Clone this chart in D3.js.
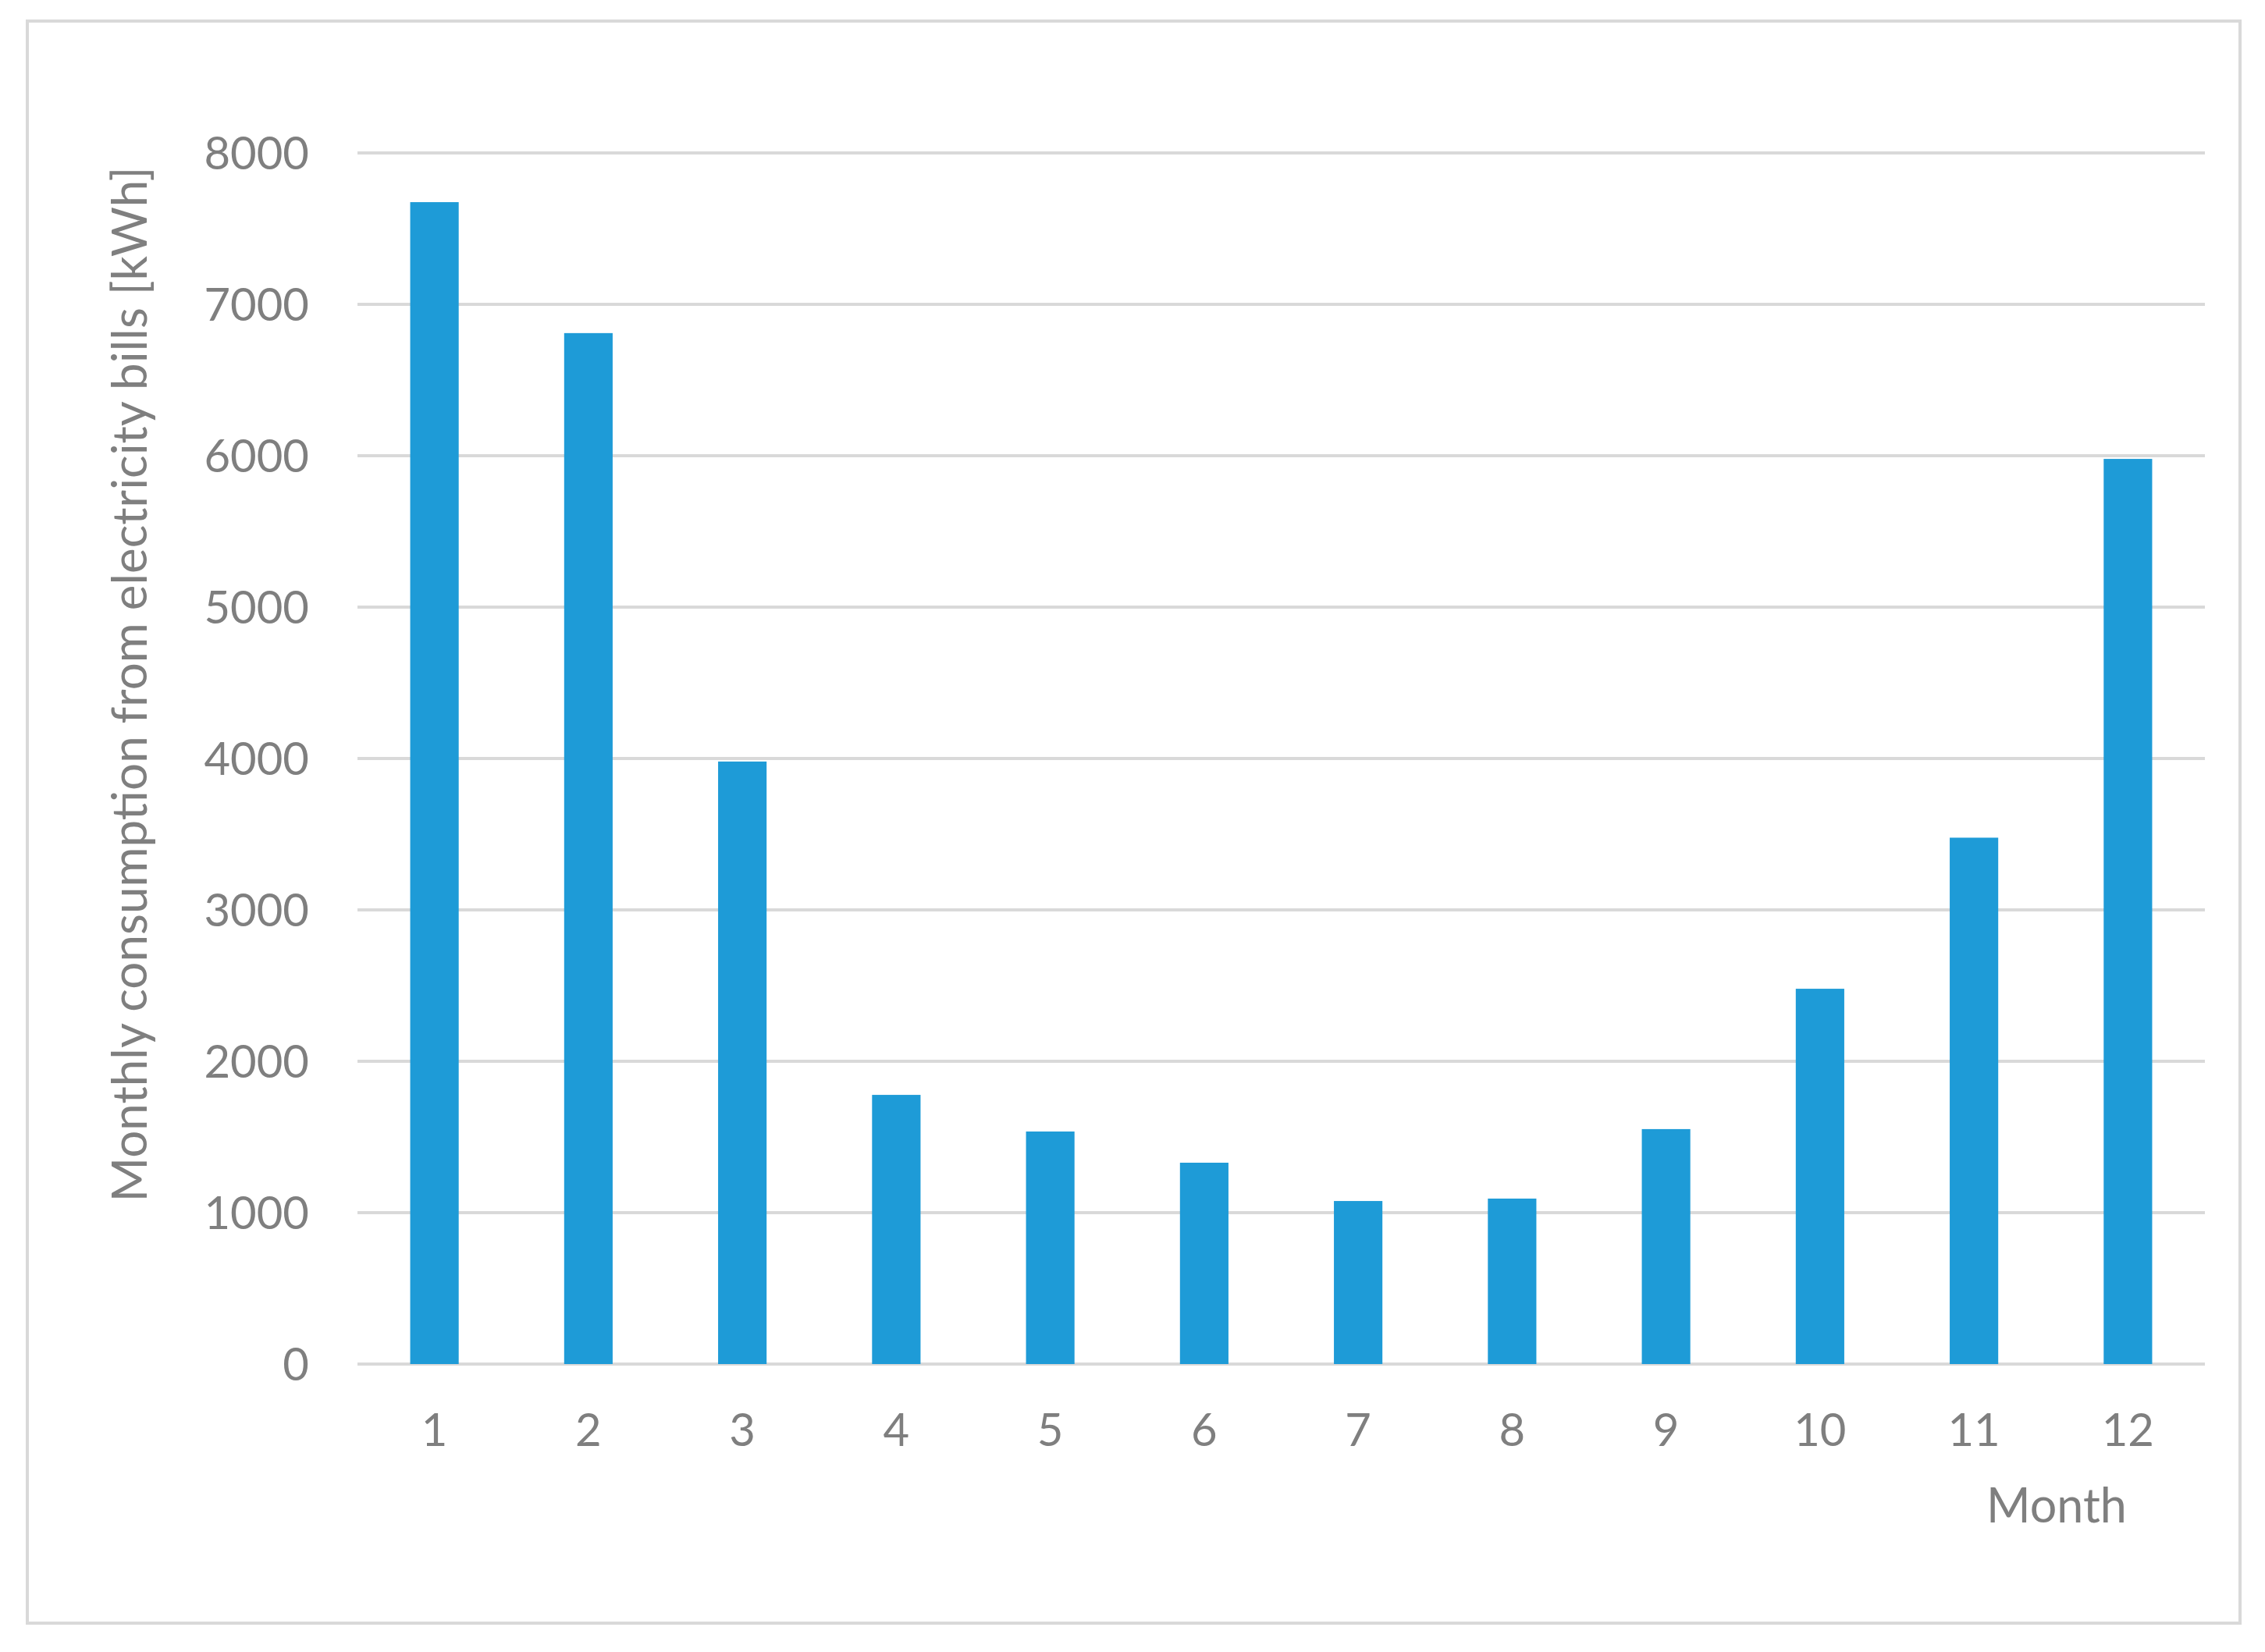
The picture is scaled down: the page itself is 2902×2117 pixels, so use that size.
<!DOCTYPE html>
<html>
<head>
<meta charset="utf-8">
<script src="https://cdn.jsdelivr.net/npm/d3@7"></script>
<style>
  html, body { margin: 0; padding: 0; background: #ffffff; }
  svg { display: block; }
  text { font-family: Lato, "Open Sans", sans-serif; fill: #7f7f7f; }
</style>
</head>
<body>
<svg id="chart" width="2902" height="2117"></svg>
<script>
const months = ["1","2","3","4","5","6","7","8","9","10","11","12"];
const consumption = [7675, 6810, 3980, 1778, 1536, 1330, 1077, 1093, 1552, 2479, 3477, 5979];
const yTicks = [0, 1000, 2000, 3000, 4000, 5000, 6000, 7000, 8000];
const yTitle = "Monthly consumption from electricity bills [kWh]";
const xTitle = "Month";

const plot = { left: 458, right: 2825, top: 196, bottom: 1748 };
const fontSize = 58;

const svg = d3.select("#chart");

// outer border
svg.append("rect")
  .attr("x", 35).attr("y", 27)
  .attr("width", 2835).attr("height", 2053)
  .attr("fill", "#ffffff")
  .attr("stroke", "#d9d9d9").attr("stroke-width", 4);

const x = d3.scaleBand().domain(months).range([plot.left, plot.right]).paddingInner(0.685).paddingOuter(0.3425);
const y = d3.scaleLinear().domain([0, 8000]).range([plot.bottom, plot.top]);

// gridlines
svg.append("g").selectAll("line").data(yTicks).join("line")
  .attr("x1", plot.left).attr("x2", plot.right)
  .attr("y1", d => y(d)).attr("y2", d => y(d))
  .attr("stroke", "#d9d9d9").attr("stroke-width", 4);

// y axis labels
const yAxis = d3.axisLeft(y).tickValues(yTicks).tickSize(0).tickPadding(0).tickFormat(d3.format("d"));
const gy = svg.append("g").attr("transform", `translate(396,0)`).call(yAxis);
gy.select(".domain").remove();
gy.selectAll("text").style("font-size", fontSize + "px").attr("fill", "#7f7f7f").attr("dy", "0.35em");

// bars
svg.append("g").selectAll("rect").data(consumption).join("rect")
  .attr("x", (d, i) => x(months[i]))
  .attr("width", x.bandwidth())
  .attr("y", d => y(d))
  .attr("height", d => y(0) - y(d))
  .attr("fill", "#1e9bd7");

// x axis labels
const xAxis = d3.axisBottom(x).tickSize(0).tickPadding(0);
const gx = svg.append("g").attr("transform", `translate(0,1853)`).call(xAxis);
gx.select(".domain").remove();
gx.selectAll("text").style("font-size", fontSize + "px").attr("fill", "#7f7f7f").attr("dy", "0").attr("y", 0);

// x title
svg.append("text")
  .attr("x", 2635).attr("y", 1951)
  .attr("text-anchor", "middle")
  .style("font-size", "61px")
  .text(xTitle);

// y title
svg.append("text")
  .attr("transform", "translate(188,877) rotate(-90)")
  .attr("text-anchor", "middle")
  .style("font-size", "62px")
  .text(yTitle);
</script>
</body>
</html>
